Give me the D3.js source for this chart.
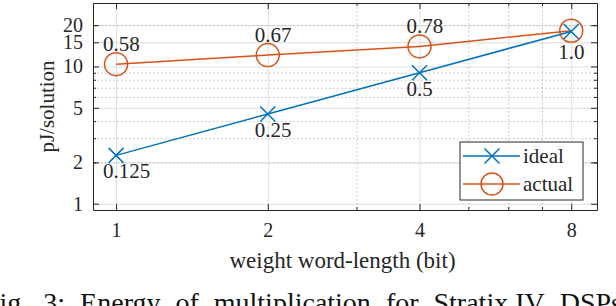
<!DOCTYPE html>
<html>
<head>
<meta charset="utf-8">
<script src="https://cdn.jsdelivr.net/npm/d3@7"></script>
<style>
    body { margin: 0; background: #fff; }
    svg { display: block; }
    svg text { font-family: "Liberation Serif", "Times New Roman", serif; }
</style>
</head>
<body>
<div id="chart"></div>
<script>
// values
const bits = [1, 2, 4, 8];
const ideal = [2.25, 4.5, 9, 18];
const actual = [10.4, 12.1, 14.0, 18.2];
const idealLabels = ["0.125", "0.25", "0.5", ""];
const actualLabels = ["0.58", "0.67", "0.78", "1.0"];
const xTicks = [1, 2, 4, 8];
const xMinor = [3, 5, 6, 7];
const yTicks = [1, 2, 5, 10, 15, 20];
const yMinor = [2, 3, 4, 6, 7, 8, 9, 20];
const seriesNames = ["ideal", "actual"];
const captionWords = ["Fig.", "3:", "Energy", "of", "multiplication", "for", "Stratix IV", "DSPs"];

const blue = "#0072BD", orange = "#D95319";
const axisColor = "#262626";

let margin = {top: 3, right: 19, bottom: 96, left: 93};
let width = 616 - margin.left - margin.right,
    height = 306 - margin.top - margin.bottom;

let svg = d3.select("#chart").append("svg")
    .attr("width", 616)
    .attr("height", 306);

let g = svg.append("g")
    .attr("transform", "translate(" + margin.left + "," + margin.top + ")");

let x = d3.scaleLog().domain([0.9, 9]).range([0, width]);
let y = d3.scaleLog().domain([0.9, 29]).range([height, 0]);

// grid: minor dotted, major solid
g.append("g")
    .call(d3.axisBottom(x).tickValues(xTicks).tickSize(height).tickFormat(""))
    .call(s => s.select(".domain").remove())
    .selectAll("line").attr("stroke", "#dedede");
g.append("g")
    .call(d3.axisLeft(y).tickValues(yTicks).tickSize(-width).tickFormat(""))
    .call(s => s.select(".domain").remove())
    .selectAll("line").attr("stroke", "#dedede");
g.append("g")
    .call(d3.axisBottom(x).tickValues(xMinor).tickSize(height).tickFormat(""))
    .call(s => s.select(".domain").remove())
    .selectAll("line").attr("stroke", "#bdbdbd").attr("stroke-dasharray", "1.5,2.5");
g.append("g")
    .call(d3.axisLeft(y).tickValues(yMinor).tickSize(-width).tickFormat(""))
    .call(s => s.select(".domain").remove())
    .selectAll("line").attr("stroke", "#bdbdbd").attr("stroke-dasharray", "1.5,2.5");

// axes (box with inward ticks)
function styleAxis(s) {
    s.selectAll("path, line").attr("stroke", axisColor);
    s.selectAll("text").attr("fill", axisColor).style("font-size", "20px");
}
g.append("g")
    .attr("transform", "translate(0," + height + ")")
    .call(d3.axisBottom(x).tickValues(xTicks).tickSize(-6).tickSizeOuter(0).tickPadding(13).tickFormat(d3.format("d")))
    .call(styleAxis);
g.append("g")
    .call(d3.axisLeft(y).tickValues(yTicks).tickSize(-6).tickSizeOuter(0).tickPadding(10).tickFormat(d3.format("d")))
    .call(styleAxis);
g.append("g")
    .call(d3.axisTop(x).tickValues(xTicks).tickSize(-6).tickSizeOuter(0).tickFormat(""))
    .call(styleAxis);
g.append("g")
    .attr("transform", "translate(" + width + ",0)")
    .call(d3.axisRight(y).tickValues(yTicks).tickSize(-6).tickSizeOuter(0).tickFormat(""))
    .call(styleAxis);
// minor ticks
[[d3.axisBottom(x).tickValues(xMinor), "translate(0," + height + ")"],
 [d3.axisTop(x).tickValues(xMinor), null],
 [d3.axisLeft(y).tickValues(yMinor), null],
 [d3.axisRight(y).tickValues(yMinor), "translate(" + width + ",0)"]].forEach(function (a) {
    let ax = g.append("g");
    if (a[1]) ax.attr("transform", a[1]);
    ax.call(a[0].tickSize(-3).tickSizeOuter(0).tickFormat(""))
        .call(s => s.select(".domain").remove())
        .call(styleAxis);
});

// series
let line = d3.line()
    .x(function (d) { return x(d[0]); })
    .y(function (d) { return y(d[1]); });

let idealPts = bits.map((b, i) => [b, ideal[i]]);
let actualPts = bits.map((b, i) => [b, actual[i]]);

function crossPath(r) {
    return "M" + (-r) + "," + (-r) + "L" + r + "," + r + "M" + (-r) + "," + r + "L" + r + "," + (-r);
}

g.append("path").datum(actualPts)
    .attr("d", line).attr("fill", "none").attr("stroke", orange).attr("stroke-width", 1.5);
g.selectAll(".mA").data(actualPts).enter().append("circle")
    .attr("cx", d => x(d[0])).attr("cy", d => y(d[1])).attr("r", 11.5)
    .attr("fill", "none").attr("stroke", orange).attr("stroke-width", 1.5);

g.append("path").datum(idealPts)
    .attr("d", line).attr("fill", "none").attr("stroke", blue).attr("stroke-width", 1.5);
g.selectAll(".mI").data(idealPts).enter().append("path")
    .attr("transform", d => "translate(" + x(d[0]) + "," + y(d[1]) + ")")
    .attr("d", crossPath(7.5))
    .attr("fill", "none").attr("stroke", blue).attr("stroke-width", 1.5);

// value labels
let labelStyle = s => s.attr("fill", axisColor).style("font-size", "21px");
g.selectAll(".lA").data(actualPts).enter().append("text")
    .attr("x", d => x(d[0]) - 13)
    .attr("y", (d, i) => i === actualPts.length - 1 ? y(d[1]) + 28 : y(d[1]) - 13)
    .text((d, i) => actualLabels[i])
    .call(labelStyle);
g.selectAll(".lI").data(idealPts).enter().append("text")
    .attr("x", d => x(d[0]) - 13)
    .attr("y", d => y(d[1]) + 23)
    .text((d, i) => idealLabels[i])
    .call(labelStyle);

// legend
let lg = g.append("g").attr("transform", "translate(" + (width - 137) + "," + (height - 68) + ")");
lg.append("rect").attr("width", 123).attr("height", 58)
    .attr("fill", "#fff").attr("stroke", axisColor).attr("stroke-width", 1);
seriesNames.forEach(function (name, i) {
    let cy = 14 + i * 28;
    let col = i === 0 ? blue : orange;
    lg.append("line").attr("x1", 3).attr("x2", 60).attr("y1", cy).attr("y2", cy)
        .attr("stroke", col).attr("stroke-width", 1.5);
    if (i === 0) {
        lg.append("path").attr("transform", "translate(32," + cy + ")").attr("d", crossPath(7.5))
            .attr("fill", "none").attr("stroke", col).attr("stroke-width", 1.5);
    } else {
        lg.append("circle").attr("cx", 32).attr("cy", cy).attr("r", 11)
            .attr("fill", "none").attr("stroke", col).attr("stroke-width", 1.5);
    }
    lg.append("text").attr("x", 63).attr("y", cy + 7).text(name).call(labelStyle);
});

// axis titles
svg.append("text")
    .attr("x", 342.5).attr("y", 268)
    .attr("text-anchor", "middle")
    .text("weight word-length (bit)")
    .attr("fill", axisColor).style("font-size", "23px");
svg.append("text")
    .attr("transform", "translate(54," + (margin.top + height / 2) + ") rotate(-90)")
    .attr("text-anchor", "middle")
    .text("pJ/solution")
    .attr("fill", axisColor).style("font-size", "21px");

// caption line (justified, cut off by the frame)
let cap = svg.append("g").style("font-size", "28px").attr("fill", "#111");
let words = captionWords.map(w => cap.append("text").attr("y", 312).text(w));
let widths = words.map(t => t.node().getComputedTextLength());
let x0 = -16, x1 = 622;
let gap = (x1 - x0 - d3.sum(widths)) / (words.length - 1);
let cx = x0;
words.forEach(function (t, i) {
    t.attr("x", cx);
    cx += widths[i] + gap;
});
</script>
</body>
</html>
